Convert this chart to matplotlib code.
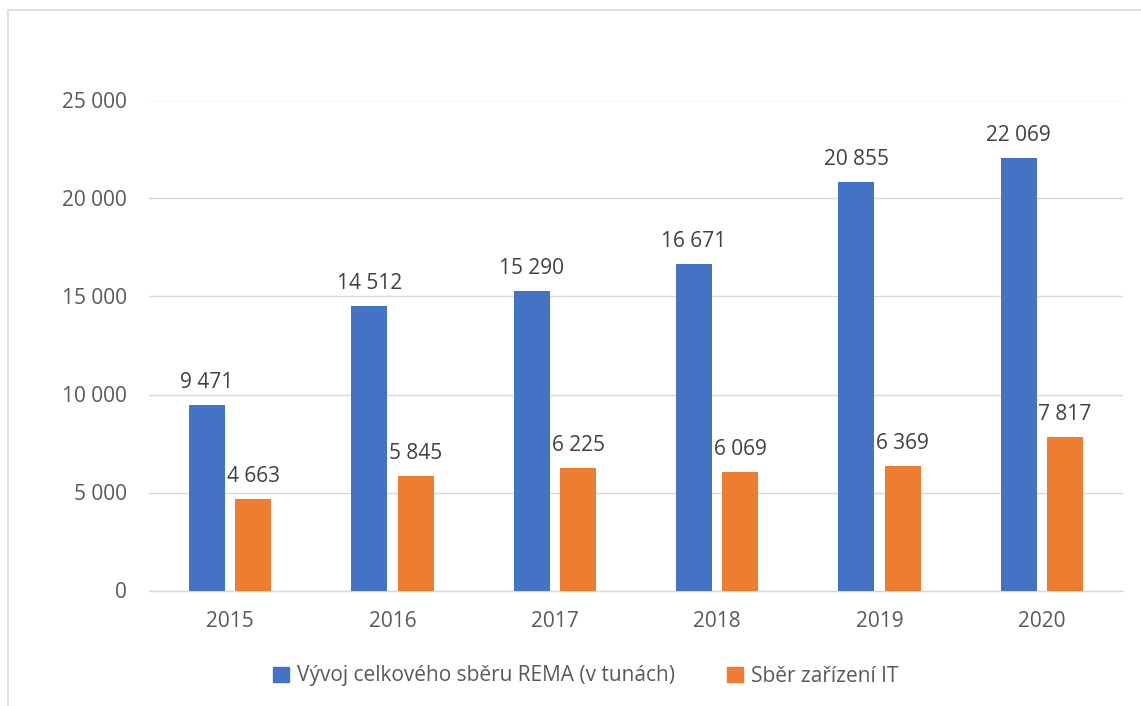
import matplotlib
matplotlib.use("Agg")
import matplotlib.pyplot as plt
from matplotlib.patches import Rectangle, Patch
import numpy as np

years = ["2015", "2016", "2017", "2018", "2019", "2020"]
rema = [9471, 14512, 15290, 16671, 20855, 22069]
it = [4663, 5845, 6225, 6069, 6369, 7817]
series_names = ["Vývoj celkového sběru REMA (v tunách)", "Sběr zařízení IT"]
yticks = [0, 5000, 10000, 15000, 20000, 25000]

BLUE = "#4472C4"
ORANGE = "#ED7D31"
GRID = "#D9D9D9"
TICK = "#595959"
LABEL = "#404040"

plt.rcParams["font.family"] = ["Open Sans", "DejaVu Sans"]

W, H = 1141, 706
fig = plt.figure(figsize=(W / 100, H / 100), dpi=100)

# chart border
fig.patches.append(Rectangle((8 / W, -0.1), 1.2, 1 - 10 / H + 0.1, transform=fig.transFigure,
                             fill=False, edgecolor=GRID, linewidth=1.2))

ax = fig.add_axes([149 / W, 1 - 590.5 / H, (1123 - 149) / W, (590.5 - 100.5) / H])
x = np.arange(len(years))
bw = 0.222
off = 0.143
b1 = ax.bar(x - off, rema, bw, color=BLUE, label=series_names[0], zorder=3)
b2 = ax.bar(x + off, it, bw, color=ORANGE, label=series_names[1], zorder=3)

def fmt(v):
    return f"{v:,}".replace(",", " ")

for bars, vals in ((b1, rema), (b2, it)):
    for r, v in zip(bars, vals):
        ax.annotate(fmt(v), (r.get_x() + r.get_width() / 2, v), xytext=(0, 17),
                    textcoords="offset pixels", ha="center", va="baseline",
                    fontsize=15, color=LABEL)

ax.set_xlim(-0.5, len(years) - 0.5)
ax.set_ylim(0, 25000)
ax.set_yticks(yticks)
ax.set_yticklabels([fmt(v) for v in yticks])
ax.set_xticks(x)
ax.set_xticklabels(years)
ax.tick_params(axis="both", length=0, labelsize=15, labelcolor=TICK)
ax.tick_params(axis="y", pad=16)
ax.tick_params(axis="x", pad=15)
ax.grid(axis="y", color=GRID, linewidth=1.0, zorder=0)
for s in ["top", "right", "left"]:
    ax.spines[s].set_visible(False)
ax.spines["bottom"].set_color(GRID)
ax.spines["bottom"].set_linewidth(1.0)

handles = [Patch(color=BLUE), Patch(color=ORANGE)]
fig.legend(handles, series_names, loc="center", bbox_to_anchor=(586 / W, 1 - 676 / H),
           ncol=2, frameon=False, fontsize=15, labelcolor=TICK,
           handlelength=0.75, handleheight=0.75, handletextpad=0.4, columnspacing=2.5)

fig.savefig("out.png", dpi=100)
